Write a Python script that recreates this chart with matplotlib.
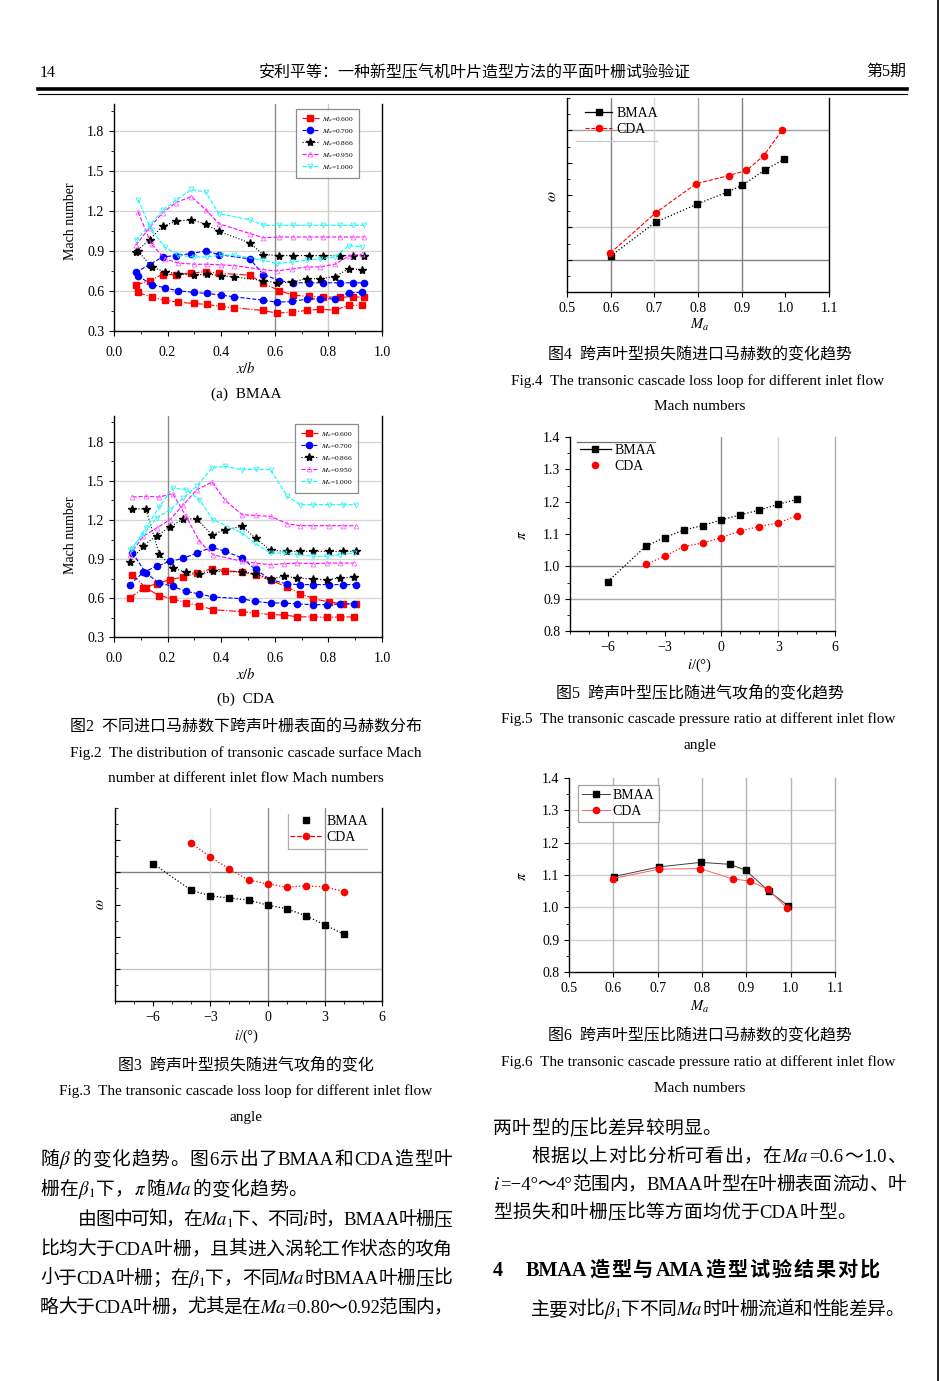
import re
import matplotlib
matplotlib.use("Agg")
import matplotlib.pyplot as plt
from matplotlib.lines import Line2D
from matplotlib.ticker import MultipleLocator, FormatStrFormatter, NullFormatter

plt.rcParams['font.family'] = ['Liberation Serif', 'Noto Sans CJK SC']
plt.rcParams['mathtext.fontset'] = 'stix'
plt.rcParams['axes.unicode_minus'] = True

W, H = 941, 1381

# ---------------- data ----------------
# Fig.2(a) BMAA surface Mach number
ba_x1 = [0.081, 0.133, 0.181, 0.231, 0.289, 0.342, 0.392, 0.507, 0.557, 0.617, 0.667, 0.726, 0.779, 0.842, 0.891, 0.934]
ba_x2 = [0.090, 0.140, 0.190, 0.239, 0.298, 0.348, 0.399, 0.449, 0.555, 0.607, 0.666, 0.719, 0.767, 0.825, 0.875, 0.925]
ba_600_1 = [0.643, 0.678, 0.723, 0.723, 0.733, 0.745, 0.733, 0.718, 0.656, 0.603, 0.569, 0.559, 0.554, 0.554, 0.554, 0.554]
ba_600_2 = [0.589, 0.554, 0.529, 0.516, 0.506, 0.499, 0.484, 0.474, 0.454, 0.434, 0.442, 0.454, 0.462, 0.457, 0.492, 0.492]
ba_700_1 = [0.740, 0.797, 0.855, 0.865, 0.880, 0.900, 0.872, 0.840, 0.723, 0.678, 0.661, 0.661, 0.661, 0.661, 0.661, 0.661]
ba_700_2 = [0.713, 0.648, 0.623, 0.601, 0.589, 0.581, 0.569, 0.556, 0.531, 0.516, 0.521, 0.539, 0.541, 0.541, 0.586, 0.589]
ba_866_1 = [0.892, 0.984, 1.084, 1.121, 1.133, 1.101, 1.046, 0.959, 0.872, 0.865, 0.865, 0.865, 0.865, 0.865, 0.865, 0.865]
ba_866_2 = [0.900, 0.780, 0.743, 0.728, 0.718, 0.725, 0.715, 0.705, 0.678, 0.661, 0.666, 0.693, 0.691, 0.708, 0.765, 0.760]
ba_950_1 = [0.942, 1.075, 1.185, 1.262, 1.307, 1.208, 1.103, 1.030, 0.999, 1.004, 1.004, 1.004, 1.004, 1.004, 1.004, 1.004]
ba_950_2 = [1.190, 0.950, 0.840, 0.810, 0.800, 0.800, 0.795, 0.790, 0.760, 0.750, 0.765, 0.780, 0.780, 0.800, 0.860, 0.875]
ba_100_1 = [0.979, 1.091, 1.203, 1.278, 1.360, 1.340, 1.178, 1.133, 1.091, 1.091, 1.091, 1.091, 1.091, 1.091, 1.091, 1.091]
ba_100_2 = [1.283, 1.054, 0.929, 0.867, 0.855, 0.855, 0.867, 0.870, 0.830, 0.805, 0.817, 0.830, 0.840, 0.855, 0.940, 0.930]

# Fig.2(b) CDA surface Mach number
bc_x1 = [0.059, 0.109, 0.159, 0.209, 0.259, 0.309, 0.365, 0.415, 0.478, 0.528, 0.584, 0.646, 0.694, 0.744, 0.803, 0.853, 0.903]
bc_x2 = [0.069, 0.119, 0.169, 0.219, 0.269, 0.319, 0.369, 0.478, 0.525, 0.584, 0.634, 0.684, 0.744, 0.794, 0.844, 0.894]
bc_600_1 = [0.600, 0.677, 0.710, 0.741, 0.762, 0.792, 0.826, 0.810, 0.800, 0.779, 0.736, 0.685, 0.633, 0.595, 0.569, 0.556, 0.556]
bc_600_2 = [0.779, 0.677, 0.618, 0.595, 0.562, 0.541, 0.510, 0.495, 0.485, 0.472, 0.469, 0.456, 0.454, 0.451, 0.454, 0.454]
bc_700_1 = [0.703, 0.797, 0.844, 0.882, 0.905, 0.946, 0.990, 0.959, 0.908, 0.820, 0.741, 0.708, 0.703, 0.703, 0.703, 0.703, 0.703]
bc_700_2 = [0.946, 0.792, 0.715, 0.690, 0.651, 0.631, 0.608, 0.595, 0.574, 0.562, 0.562, 0.554, 0.549, 0.549, 0.554, 0.554]
bc_866_1 = [0.874, 1.003, 1.079, 1.146, 1.208, 1.208, 1.087, 1.126, 1.150, 1.060, 0.967, 0.959, 0.959, 0.959, 0.959, 0.959, 0.959]
bc_866_2 = [1.285, 1.285, 0.938, 0.831, 0.797, 0.787, 0.805, 0.800, 0.787, 0.746, 0.767, 0.754, 0.746, 0.741, 0.754, 0.762]
bc_950_1 = [0.933, 1.074, 1.138, 1.203, 1.318, 1.433, 1.492, 1.351, 1.241, 1.235, 1.228, 1.172, 1.156, 1.156, 1.156, 1.156, 1.156]
bc_950_2 = [1.377, 1.382, 1.377, 1.403, 1.228, 1.036, 0.933, 0.882, 0.869, 0.856, 0.864, 0.869, 0.864, 0.869, 0.869, 0.869]
bc_100_1 = [0.972, 1.087, 1.215, 1.279, 1.369, 1.459, 1.600, 1.613, 1.587, 1.590, 1.587, 1.382, 1.318, 1.318, 1.318, 1.318, 1.318]
bc_100_2 = [0.980, 1.140, 1.300, 1.446, 1.433, 1.356, 1.203, 1.100, 1.023, 0.946, 0.946, 0.933, 0.921, 0.921, 0.933, 0.946]

mach_labels = ['$M_a$=0.600', '$M_a$=0.700', '$M_a$=0.866', '$M_a$=0.950', '$M_a$=1.000']

# Fig.3 loss vs incidence (relative scale, no labels)
f3_i_bmaa = [-6, -4, -3, -2, -1, 0, 1, 2, 3, 4]
f3_w_bmaa = [4.27, 3.44, 3.27, 3.20, 3.14, 2.98, 2.87, 2.65, 2.37, 2.07]
f3_i_cda = [-4, -3, -2, -1, 0, 1, 2, 3, 4]
f3_w_cda = [4.91, 4.48, 4.10, 3.76, 3.64, 3.54, 3.58, 3.55, 3.40]

# Fig.4 loss vs inlet Mach (relative scale)
f4_m_bmaa = [0.600, 0.703, 0.798, 0.867, 0.901, 0.954, 0.998]
f4_w_bmaa = [1.11, 2.16, 2.72, 3.09, 3.30, 3.78, 4.11]
f4_m_cda = [0.599, 0.703, 0.796, 0.870, 0.911, 0.950, 0.993]
f4_w_cda = [1.20, 2.45, 3.35, 3.60, 3.76, 4.21, 5.01]

# Fig.5 pressure ratio vs incidence
f5_i_bmaa = [-6, -4, -3, -2, -1, 0, 1, 2, 3, 4]
f5_p_bmaa = [0.953, 1.062, 1.089, 1.112, 1.126, 1.144, 1.159, 1.174, 1.192, 1.207]
f5_i_cda = [-4, -3, -2, -1, 0, 1, 2, 3, 4]
f5_p_cda = [1.006, 1.031, 1.061, 1.072, 1.089, 1.110, 1.123, 1.135, 1.156]

# Fig.6 pressure ratio vs inlet Mach
f6_m_bmaa = [0.601, 0.703, 0.797, 0.864, 0.899, 0.951, 0.995]
f6_p_bmaa = [1.095, 1.125, 1.139, 1.133, 1.114, 1.050, 1.004]
f6_m_cda = [0.599, 0.703, 0.795, 0.869, 0.908, 0.948, 0.991]
f6_p_cda = [1.089, 1.118, 1.120, 1.088, 1.081, 1.056, 0.999]

# ---------------- helpers ----------------
fig = plt.figure(figsize=(W / 100, H / 100), dpi=100)
renderer = fig.canvas.get_renderer()


def px_axes(l, t, r, b):
    return fig.add_axes([l / W, 1 - b / H, (r - l) / W, (b - t) / H])


def ftext(x, y, s, **kw):
    return fig.text(x / W, 1 - y / H, s, **kw)


def fline(xs, ys, **kw):
    fig.add_artist(Line2D([x / W for x in xs], [1 - y / H for y in ys],
                          transform=fig.transFigure, **kw))


def style(ax, right='k', ydir='out', pad=3.5):
    ax.spines['top'].set_visible(False)
    ax.spines['right'].set_color(right)
    for s in ax.spines.values():
        s.set_linewidth(1.0)
    ax.tick_params(which='major', labelsize=10, direction='out', length=3.5, width=0.8, pad=pad)
    ax.tick_params(which='minor', direction='out', length=2, width=0.6)
    ax.tick_params(axis='y', which='both', direction=ydir)


def tokens(s):
    return re.findall(r'\$[^$]*\$|[A-Za-z0-9.=°−]+|.', s)


def body_line(x0, ybase, s, size=13.5, x1=None, weight='normal', gap0=0.3):
    toks = tokens(s)
    arts = []
    widths = []
    for tk in toks:
        t = ftext(0, ybase, tk, fontsize=size, ha='left', va='baseline', weight=weight)
        arts.append(t)
        widths.append(t.get_window_extent(renderer).width)
    if x1 is None:
        gap = gap0
    else:
        gap = max((x1 - x0 - sum(widths)) / max(len(toks) - 1, 1), -3.0)
    x = x0
    for t, w in zip(arts, widths):
        t.set_x(x / W)
        x += w + gap


# ---------------- header ----------------
ftext(40, 73, '14', fontsize=11.5, ha='left', va='center')
ftext(475, 73, '安利平等：一种新型压气机叶片造型方法的平面叶栅试验验证', fontsize=11.5, ha='center', va='center')
ftext(906, 72, '第5期', fontsize=11.5, ha='right', va='center')
fline([38, 907], [89, 89], color='k', lw=2.6)
fline([38, 907], [93.5, 93.5], color='k', lw=0.8)
fline([938, 938], [0, 1381], color='k', lw=1.2)

# ---------------- Fig.2 ----------------
series_style = [
    dict(color='#ff0000', ls='-.', marker='s', ms=4, mfc='#ff0000', mec='#ff0000'),
    dict(color='#0000ff', ls='--', marker='o', ms=4.5, mfc='#0000ff', mec='#0000ff'),
    dict(color='#000000', ls=':', marker='*', ms=6, mfc='#000000', mec='#000000'),
    dict(color='#ff00ff', ls='--', marker='^', ms=3.5, mfc='none', mec='#ff66ff', mew=0.6),
    dict(color='#00ffff', ls='--', marker='v', ms=3.5, mfc='none', mec='#44eeee', mew=0.6),
]


def fig2(ax, x1, x2, pairs, vgrid):
    for y in [0.6, 0.9, 1.2, 1.5, 1.8]:
        ax.axhline(y, color='#d4d4d4', lw=0.9, zorder=0)
    for xv, c in vgrid:
        ax.axvline(xv, color=c, lw=1.0, zorder=0)
    handles = []
    for (y1, y2), st, lab in zip(pairs, series_style, mach_labels):
        h, = ax.plot(x1, y1, lw=0.8, label=lab, **st)
        ax.plot(x2, y2, lw=0.8, **st)
        handles.append(h)
    ax.set_xlim(0, 1.0)
    ax.set_ylim(0.3, 2.0)
    ax.xaxis.set_major_locator(MultipleLocator(0.2))
    ax.xaxis.set_minor_locator(MultipleLocator(0.1))
    ax.yaxis.set_major_locator(MultipleLocator(0.3))
    ax.yaxis.set_minor_locator(MultipleLocator(0.15))
    ax.set_yticks([0.3, 0.6, 0.9, 1.2, 1.5, 1.8])
    ax.xaxis.set_major_formatter(FormatStrFormatter('%.1f'))
    ax.yaxis.set_major_formatter(FormatStrFormatter('%.1f'))
    style(ax)
    ax.tick_params(axis='x', which='major', pad=7)
    return handles


def fig2_legend(ax, handles, x, y):
    lg = ax.legend(handles=handles, loc='upper left', bbox_to_anchor=(x / W, 1 - y / H),
                   bbox_transform=fig.transFigure, fontsize=5.3, frameon=True, fancybox=False,
                   edgecolor='#707070', handlelength=2.3, handletextpad=0.4, labelspacing=0.42,
                   borderpad=0.8, borderaxespad=0)
    lg.get_frame().set_linewidth(0.9)


axa = px_axes(114, 104, 382, 331)
ha = fig2(axa, ba_x1, ba_x2,
          [(ba_600_1, ba_600_2), (ba_700_1, ba_700_2), (ba_866_1, ba_866_2),
           (ba_950_1, ba_950_2), (ba_100_1, ba_100_2)],
          [(0.6, '#8a8a8a'), (0.8, '#cccccc')])
fig2_legend(axa, ha, 296, 109)
ftext(70, 221, 'Mach number', fontsize=10, rotation=90, ha='center', va='center')
ftext(246, 368, '$x/b$', fontsize=10.5, ha='center', va='center')
ftext(246, 394, '(a)  BMAA', fontsize=11, ha='center', va='center')

axb = px_axes(114, 416, 382, 637)
hb = fig2(axb, bc_x1, bc_x2,
          [(bc_600_1, bc_600_2), (bc_700_1, bc_700_2), (bc_866_1, bc_866_2),
           (bc_950_1, bc_950_2), (bc_100_1, bc_100_2)],
          [(0.2, '#8a8a8a')])
fig2_legend(axb, hb, 295, 424)
ftext(70, 535, 'Mach number', fontsize=10, rotation=90, ha='center', va='center')
ftext(246, 674, '$x/b$', fontsize=10.5, ha='center', va='center')
ftext(246, 699, '(b)  CDA', fontsize=11, ha='center', va='center')

ftext(246, 727, '图2  不同进口马赫数下跨声叶栅表面的马赫数分布', fontsize=11.5, ha='center', va='center')
ftext(246, 753, 'Fig.2  The distribution of transonic cascade surface Mach', fontsize=11, ha='center', va='center')
ftext(246, 779, 'number at different inlet flow Mach numbers', fontsize=11, ha='center', va='center')

# ---------------- Fig.3 ----------------
ax3 = px_axes(115, 808, 382, 1001)
ax3.axhline(4, color='#808080', lw=1.0, zorder=0)
ax3.axhline(1, color='#c4c4c4', lw=1.0, zorder=0)
ax3.axvline(-3, color='#d8d8d8', lw=1.0, zorder=0)
ax3.axvline(0, color='#909090', lw=1.0, zorder=0)
ax3.axvline(3, color='#909090', lw=1.0, zorder=0)
ax3.plot(f3_i_bmaa, f3_w_bmaa, color='k', ls=':', lw=0.9, marker='s', ms=4)
ax3.plot(f3_i_cda, f3_w_cda, color='#ff0000', ls=':', lw=0.9, marker='o', ms=4.5)
ax3.set_xlim(-8, 6)
ax3.set_ylim(0, 6)
ax3.set_xticks([-6, -3, 0, 3, 6])
ax3.xaxis.set_minor_locator(MultipleLocator(1))
ax3.yaxis.set_major_locator(MultipleLocator(1))
ax3.yaxis.set_minor_locator(MultipleLocator(0.5))
ax3.yaxis.set_major_formatter(NullFormatter())
style(ax3, ydir='in')
ax3.set_yticks([1, 2, 3, 4, 5])
h1 = Line2D([], [], color='k', ls='none', marker='s', ms=4)
h2 = Line2D([], [], color='#ff0000', ls='--', lw=0.9, marker='o', ms=4.5)
ax3.legend([h1, h2], ['BMAA', 'CDA'], loc='upper left', bbox_to_anchor=(290 / W, 1 - 815 / H),
           bbox_transform=fig.transFigure, fontsize=10, frameon=False, handlelength=2.3,
           handletextpad=0.3, labelspacing=0.2, borderaxespad=0, borderpad=0)
fline([288, 288], [814, 849], color='#b0b0b0', lw=0.9)
fline([288, 367], [849, 849], color='#b0b0b0', lw=0.9)
ftext(100, 904, r'$\omega$', fontsize=10.5, rotation=90, ha='center', va='center')
ftext(247, 1036, r'$i$/(°)', fontsize=10.5, ha='center', va='center')
ftext(246, 1065, '图3  跨声叶型损失随进气攻角的变化', fontsize=11.5, ha='center', va='center')
ftext(246, 1091, 'Fig.3  The transonic cascade loss loop for different inlet flow', fontsize=11, ha='center', va='center')
ftext(246, 1117, 'angle', fontsize=11, ha='center', va='center')

# ---------------- Fig.4 ----------------
ax4 = px_axes(567, 98, 829, 292)
ax4.axhline(5, color='#a0a0a0', lw=1.0, zorder=0)
ax4.axhline(2, color='#d0d0d0', lw=1.0, zorder=0)
ax4.axhline(1, color='#808080', lw=1.0, zorder=0)
for xv, c in [(0.6, '#808080'), (0.7, '#d8d8d8'), (0.8, '#a8a8a8'), (0.9, '#808080')]:
    ax4.axvline(xv, color=c, lw=1.0, zorder=0)
ax4.plot(f4_m_bmaa, f4_w_bmaa, color='k', ls=':', lw=0.9, marker='s', ms=4)
ax4.plot(f4_m_cda, f4_w_cda, color='#ff0000', ls='--', lw=0.8, marker='o', ms=4.5)
ax4.set_xlim(0.5, 1.1)
ax4.set_ylim(0, 6)
ax4.xaxis.set_major_locator(MultipleLocator(0.1))
ax4.xaxis.set_major_formatter(FormatStrFormatter('%.1f'))
ax4.yaxis.set_major_locator(MultipleLocator(1))
ax4.yaxis.set_minor_locator(MultipleLocator(0.5))
ax4.yaxis.set_major_formatter(NullFormatter())
style(ax4, ydir='in')
ax4.set_yticks([1, 2, 3, 4, 5])
h1 = Line2D([], [], color='k', ls='-', lw=0.9, marker='s', ms=4)
h2 = Line2D([], [], color='#ff0000', ls='--', lw=0.8, marker='o', ms=4.5)
ax4.legend([h1, h2], ['BMAA', 'CDA'], loc='upper left', bbox_to_anchor=(585 / W, 1 - 107 / H),
           bbox_transform=fig.transFigure, fontsize=10, frameon=False, handlelength=1.95,
           handletextpad=0.3, labelspacing=0.2, borderaxespad=0, borderpad=0)
fline([576, 657], [141, 141], color='#c8c8c8', lw=0.9)
ftext(553, 196, r'$\omega$', fontsize=10.5, rotation=90, ha='center', va='center')
ftext(700, 325, r'$M_a$', fontsize=10.5, ha='center', va='center')
ftext(700, 355, '图4  跨声叶型损失随进口马赫数的变化趋势', fontsize=11.5, ha='center', va='center')
ftext(698, 381, 'Fig.4  The transonic cascade loss loop for different inlet flow', fontsize=11, ha='center', va='center')
ftext(700, 407, 'Mach numbers', fontsize=11, ha='center', va='center')

# ---------------- Fig.5 ----------------
ax5 = px_axes(570, 437, 835, 631)
ax5.axhline(1.0, color='#808080', lw=1.0, zorder=0)
ax5.axhline(0.9, color='#a8a8a8', lw=1.0, zorder=0)
ax5.axvline(0, color='#909090', lw=1.0, zorder=0)
ax5.axvline(3, color='#d0d0d0', lw=1.0, zorder=0)
ax5.plot(f5_i_bmaa, f5_p_bmaa, color='k', ls=':', lw=0.9, marker='s', ms=4)
ax5.plot(f5_i_cda, f5_p_cda, color='#ff0000', ls=':', lw=0.9, marker='o', ms=4.5)
ax5.set_xlim(-8, 6)
ax5.set_ylim(0.8, 1.4)
ax5.set_xticks([-6, -3, 0, 3, 6])
ax5.xaxis.set_minor_locator(MultipleLocator(1))
ax5.yaxis.set_major_locator(MultipleLocator(0.1))
ax5.yaxis.set_minor_locator(MultipleLocator(0.05))
ax5.yaxis.set_major_formatter(FormatStrFormatter('%.1f'))
style(ax5, right='#b0b0b0')
h1 = Line2D([], [], color='k', ls='-', lw=0.9, marker='s', ms=4)
h2 = Line2D([], [], color='#ff0000', ls='none', marker='o', ms=4.5)
ax5.legend([h1, h2], ['BMAA', 'CDA'], loc='upper left', bbox_to_anchor=(580 / W, 1 - 444 / H),
           bbox_transform=fig.transFigure, fontsize=10, frameon=False, handlelength=2.2,
           handletextpad=0.3, labelspacing=0.2, borderaxespad=0, borderpad=0)
fline([577, 655], [442, 442], color='#707070', lw=0.9)
ftext(522, 535, r'$\pi$', fontsize=10.5, rotation=90, ha='center', va='center')
ftext(700, 665, r'$i$/(°)', fontsize=10.5, ha='center', va='center')
ftext(700, 693, '图5  跨声叶型压比随进气攻角的变化趋势', fontsize=11.5, ha='center', va='center')
ftext(698, 719, 'Fig.5  The transonic cascade pressure ratio at different inlet flow', fontsize=11, ha='center', va='center')
ftext(700, 745, 'angle', fontsize=11, ha='center', va='center')

# ---------------- Fig.6 ----------------
ax6 = px_axes(569, 778, 835, 972)
for yv in [0.9, 1.0, 1.1, 1.2, 1.3]:
    ax6.axhline(yv, color='#d0d0d0', lw=1.0, zorder=0)
for xv in [0.6, 0.7, 0.8, 0.9, 1.0]:
    ax6.axvline(xv, color='#b4b4b4', lw=1.0, zorder=0)
ax6.plot(f6_m_bmaa, f6_p_bmaa, color='#404040', ls='-', lw=0.7, marker='s', ms=4, mfc='k', mec='k')
ax6.plot(f6_m_cda, f6_p_cda, color='#ff6060', ls='-', lw=0.7, marker='o', ms=4.5, mfc='#ff0000', mec='#ff0000')
ax6.set_xlim(0.5, 1.1)
ax6.set_ylim(0.8, 1.4)
ax6.xaxis.set_major_locator(MultipleLocator(0.1))
ax6.xaxis.set_major_formatter(FormatStrFormatter('%.1f'))
ax6.yaxis.set_major_locator(MultipleLocator(0.1))
ax6.yaxis.set_minor_locator(MultipleLocator(0.05))
ax6.yaxis.set_major_formatter(FormatStrFormatter('%.1f'))
style(ax6, right='#b0b0b0')
h1 = Line2D([], [], color='#404040', ls='-', lw=0.7, marker='s', ms=4, mfc='k', mec='k')
h2 = Line2D([], [], color='#ff6060', ls='-', lw=0.7, marker='o', ms=4.5, mfc='#ff0000', mec='#ff0000')
lg = ax6.legend([h1, h2], ['BMAA', 'CDA'], loc='upper left', bbox_to_anchor=(578 / W, 1 - 785 / H),
                bbox_transform=fig.transFigure, fontsize=10, frameon=True, fancybox=False,
                edgecolor='#909090', handlelength=2.0, handletextpad=0.2, labelspacing=0.2,
                borderaxespad=0, borderpad=0.3)
lg.get_frame().set_linewidth(0.9)
ftext(522, 876, r'$\pi$', fontsize=10.5, rotation=90, ha='center', va='center')
ftext(700, 1007, r'$M_a$', fontsize=10.5, ha='center', va='center')
ftext(700, 1036, '图6  跨声叶型压比随进口马赫数的变化趋势', fontsize=11.5, ha='center', va='center')
ftext(698, 1062, 'Fig.6  The transonic cascade pressure ratio at different inlet flow', fontsize=11, ha='center', va='center')
ftext(700, 1088, 'Mach numbers', fontsize=11, ha='center', va='center')

# ---------------- body text ----------------
body_line(40, 1165, '随$\\beta$的变化趋势。图6示出了BMAA和CDA造型叶', x1=452)
body_line(40, 1195, '栅在$\\beta_1$下，$\\pi$随$Ma$的变化趋势。')
body_line(78, 1225, '由图中可知，在$Ma_1$下、不同$i$时，BMAA叶栅压', x1=452)
body_line(40, 1255, '比均大于CDA叶栅，且其进入涡轮工作状态的攻角', x1=452)
body_line(40, 1284, '小于CDA叶栅；在$\\beta_1$下，不同$Ma$时BMAA叶栅压比', x1=452)
body_line(40, 1313, '略大于CDA叶栅，尤其是在$Ma$=0.80～0.92范围内，', x1=452)

body_line(493, 1134, '两叶型的压比差异较明显。')
body_line(531, 1162, '根据以上对比分析可看出，在$Ma$=0.6～1.0、', x1=906)
body_line(493, 1190, '$i$=−4°～4°范围内，BMAA叶型在叶栅表面流动、叶', x1=906)
body_line(493, 1218, '型损失和叶栅压比等方面均优于CDA叶型。')
body_line(493, 1276, '4   BMAA造型与AMA造型试验结果对比', size=14.5, weight='bold', x1=880)
body_line(531, 1315, '主要对比$\\beta_1$下不同$Ma$时叶栅流道和性能差异。', x1=904)

fig.savefig('out.png', dpi=100)
